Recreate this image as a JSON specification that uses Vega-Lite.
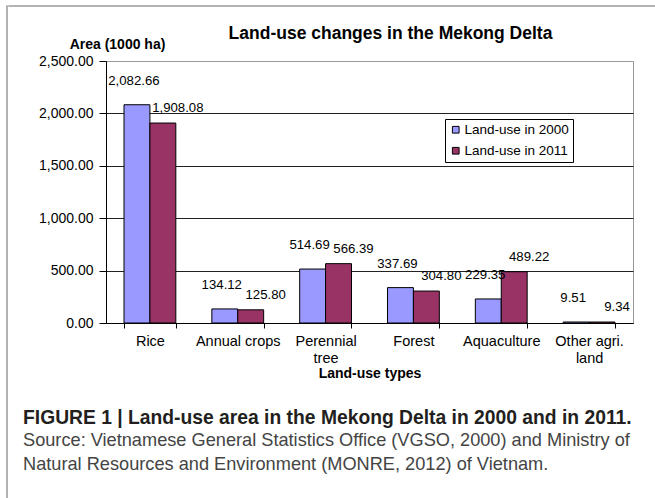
{
  "$schema": "https://vega.github.io/schema/vega-lite/v6.json",
  "background": "white",
  "padding": {"left": 6, "top": 5, "right": 0, "bottom": 0},
  "config": {
    "font": "Liberation Sans",
    "view": {"stroke": "#999999", "strokeWidth": 1}
  },
  "datasets": {
    "landuse": [
      {"type": "Rice", "series": "Land-use in 2000", "area": 2082.66},
      {"type": "Rice", "series": "Land-use in 2011", "area": 1908.08},
      {"type": "Annual crops", "series": "Land-use in 2000", "area": 134.12},
      {"type": "Annual crops", "series": "Land-use in 2011", "area": 125.80},
      {"type": "Perennial tree", "series": "Land-use in 2000", "area": 514.69},
      {"type": "Perennial tree", "series": "Land-use in 2011", "area": 566.39},
      {"type": "Forest", "series": "Land-use in 2000", "area": 337.69},
      {"type": "Forest", "series": "Land-use in 2011", "area": 304.80},
      {"type": "Aquaculture", "series": "Land-use in 2000", "area": 229.35},
      {"type": "Aquaculture", "series": "Land-use in 2011", "area": 489.22},
      {"type": "Other agri. land", "series": "Land-use in 2000", "area": 9.51},
      {"type": "Other agri. land", "series": "Land-use in 2011", "area": 9.34}
    ],
    "empty": []
  },
  "spacing": 0,
  "hconcat": [
    {
      "width": 0.01,
      "height": 492,
      "data": {"name": "empty"},
      "mark": "point",
      "view": {"stroke": "#9a9a9a", "strokeWidth": 1.5}
    },
    {
      "spacing": 17,
      "vconcat": [
        {
          "width": 648,
          "height": 0.01,
          "data": {"name": "empty"},
          "mark": "point",
          "view": {"stroke": "#9a9a9a", "strokeWidth": 1.5}
        },
        {
          "spacing": 13,
          "hconcat": [
            {
              "width": 0.01,
              "height": 0.01,
              "data": {"name": "empty"},
              "mark": "point",
              "view": {"stroke": null}
            },
            {
              "title": {
                "text": "FIGURE 1 | Land-use area in the Mekong Delta in 2000 and in 2011.",
                "subtitle": ["Source: Vietnamese General Statistics Office (VGSO, 2000) and Ministry of", "Natural Resources and Environment (MONRE, 2012) of Vietnam."],
                "orient": "bottom",
                "anchor": "start",
                "frame": "bounds",
                "dx": -15,
                "font": "Liberation Sans",
                "fontSize": 19.3,
                "fontWeight": "bold",
                "color": "#231f20",
                "subtitleFont": "Liberation Sans",
                "subtitleFontSize": 18.2,
                "subtitleColor": "#444444",
                "subtitleLineHeight": 24,
                "subtitlePadding": 4,
                "offset": 28
              },
              "vconcat": [
                {
                  "width": 527,
                  "height": 262,
                  "data": {"name": "landuse"},
                  "title": {
                    "text": "Land-use changes in the Mekong Delta",
                    "fontSize": 17.5,
                    "fontWeight": "bold",
                    "color": "#000000",
                    "anchor": "middle",
                    "frame": "group",
                    "dx": 21,
                    "offset": -5
                  },
                  "encoding": {
                    "x": {
                      "field": "type",
                      "type": "nominal",
                      "sort": ["Rice", "Annual crops", "Perennial tree", "Forest", "Aquaculture", "Other agri. land"],
                      "scale": {"paddingInner": 0.41, "paddingOuter": 0.205},
                      "axis": {
                        "title": "Land-use types",
                        "titleFontSize": 14,
                        "titleFontWeight": "bold",
                        "titleColor": "#000000",
                        "titlePadding": 2,
                        "labelAngle": 0,
                        "labelFontSize": 14.5,
                        "labelColor": "#000000",
                        "labelPadding": 6,
                        "labelLineHeight": 17,
                        "labelExpr": "datum.label == 'Perennial tree' ? ['Perennial', 'tree'] : datum.label == 'Other agri. land' ? ['Other agri.', 'land'] : datum.label",
                        "domainColor": "#000000",
                        "tickColor": "#000000",
                        "tickSize": 5,
                        "tickBand": "extent",
                        "grid": false
                      }
                    },
                    "y": {
                      "field": "area",
                      "type": "quantitative",
                      "scale": {"domain": [0, 2500]},
                      "axis": {
                        "title": "Area (1000  ha)",
                        "titleAngle": 0,
                        "titleAlign": "center",
                        "titleBaseline": "middle",
                        "titleX": 11,
                        "titleY": -17,
                        "titleFontSize": 14,
                        "titleFontWeight": "bold",
                        "titleColor": "#000000",
                        "values": [0, 500, 1000, 1500, 2000, 2500],
                        "format": ",.2f",
                        "labelFontSize": 14,
                        "labelColor": "#000000",
                        "labelPadding": 6,
                        "domainColor": "#000000",
                        "tickColor": "#000000",
                        "tickSize": 7,
                        "grid": true,
                        "gridColor": {"condition": {"test": "datum.value == 2500", "value": "#999999"}, "value": "#222222"},
                        "gridOpacity": 1
                      }
                    },
                    "xOffset": {"field": "series", "type": "nominal", "scale": {"paddingInner": 0, "paddingOuter": 0}}
                  },
                  "layer": [
                    {
                      "mark": {"type": "bar", "stroke": "#000000", "strokeWidth": 1},
                      "encoding": {
                        "color": {
                          "field": "series",
                          "type": "nominal",
                          "scale": {"domain": ["Land-use in 2000", "Land-use in 2011"], "range": ["#9999FF", "#993366"]},
                          "legend": {
                            "title": null,
                            "orient": "none",
                            "legendX": 438,
                            "legendY": 113,
                            "fillColor": "#ffffff",
                            "strokeColor": "#000000",
                            "padding": 4,
                            "rowPadding": 6,
                            "symbolType": "square",
                            "symbolSize": 45,
                            "symbolStrokeColor": "#000000",
                            "symbolStrokeWidth": 1,
                            "labelFontSize": 13.5,
                            "labelColor": "#000000",
                            "labelOffset": 2
                          }
                        }
                      }
                    },
                    {
                      "transform": [{"filter": "datum.series == 'Land-use in 2000'"}],
                      "mark": {"type": "text", "baseline": "middle", "align": "center", "dx": -3, "dy": -24, "fontSize": 13.2, "color": "#000000"},
                      "encoding": {
                        "text": {"field": "area", "type": "quantitative", "format": ",.2f"}
                      }
                    },
                    {
                      "transform": [{"filter": "datum.series == 'Land-use in 2011'"}],
                      "mark": {"type": "text", "baseline": "middle", "align": "center", "dx": 15, "dy": -15, "fontSize": 13.2, "color": "#000000"},
                      "encoding": {
                        "text": {"field": "area", "type": "quantitative", "format": ",.2f"}
                      }
                    }
                  ]
                }
              ]
            }
          ]
        }
      ]
    }
  ]
}
